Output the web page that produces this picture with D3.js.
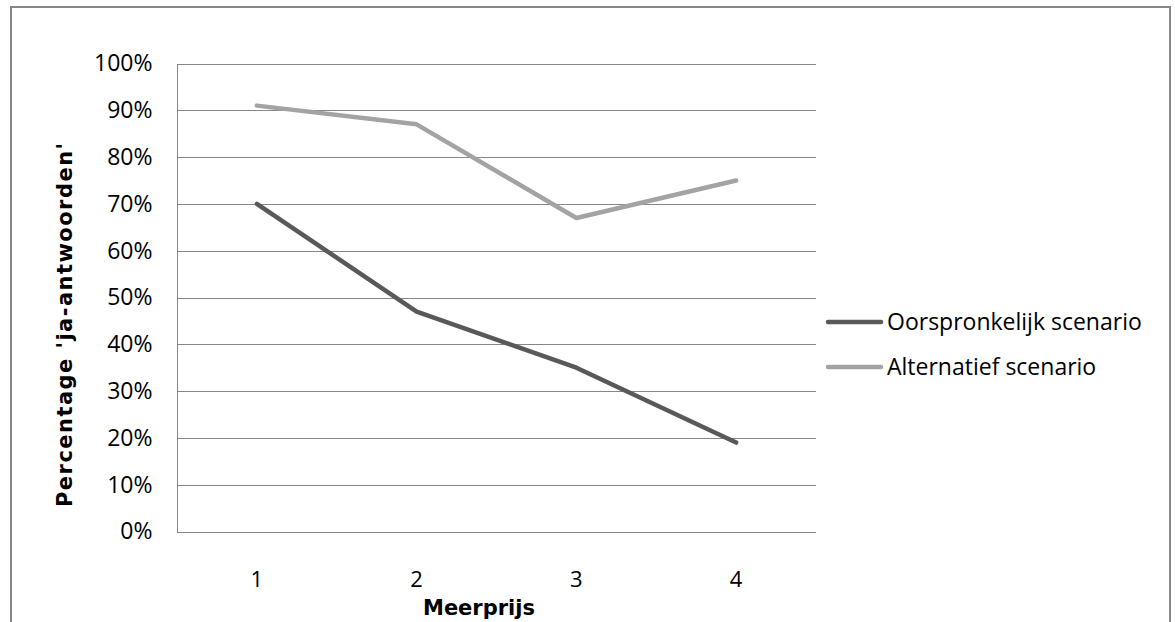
<!DOCTYPE html>
<html>
<head>
<meta charset="utf-8">
<script src="https://cdn.jsdelivr.net/npm/d3@7"></script>
<style>
  html, body { margin: 0; padding: 0; background: #fff; }
  svg { display: block; }
</style>
</head>
<body>
<svg id="chart" width="1175" height="622"></svg>
<script>
// Data
const categories = ["1", "2", "3", "4"];
const seriesNames = ["Oorspronkelijk scenario", "Alternatief scenario"];
const oorspronkelijk = [0.70, 0.47, 0.35, 0.19];
const alternatief = [0.91, 0.87, 0.67, 0.75];
const yTicks = [0, 0.1, 0.2, 0.3, 0.4, 0.5, 0.6, 0.7, 0.8, 0.9, 1.0];

const seriesColors = ["#595959", "#a3a3a3"];
const series = [
  { name: seriesNames[0], values: oorspronkelijk, color: seriesColors[0] },
  { name: seriesNames[1], values: alternatief, color: seriesColors[1] }
];

const font = "'Open Sans', sans-serif";
const boldFont = "'DejaVu Sans', sans-serif";
const svg = d3.select("#chart");

// Outer frame (open at the bottom)
svg.append("path")
  .attr("d", "M11,622 V7 H1170 V622")
  .attr("fill", "none")
  .attr("stroke", "#878787")
  .attr("stroke-width", 2);

const plot = { left: 177, right: 816, top: 63.5, bottom: 531.5 };

const x = d3.scaleBand().domain(categories).range([plot.left, plot.right]);
const y = d3.scaleLinear().domain([0, 1]).range([plot.bottom, plot.top]);

// Horizontal gridlines
svg.append("g")
  .selectAll("line")
  .data(yTicks)
  .join("line")
  .attr("x1", plot.left)
  .attr("x2", plot.right)
  .attr("y1", d => Math.round(y(d)) + 0.5)
  .attr("y2", d => Math.round(y(d)) + 0.5)
  .attr("stroke", "#878787")
  .attr("stroke-width", 1);

// Y axis
const yAxis = svg.append("g")
  .attr("transform", `translate(${plot.left + 0.5},0)`)
  .call(d3.axisLeft(y).tickValues(yTicks).tickFormat(d3.format(".0%")).tickSize(0).tickPadding(25));
yAxis.select(".domain").attr("stroke", "#878787").attr("d", `M0,${Math.round(plot.top)} V${Math.round(plot.bottom) + 1}`);
yAxis.selectAll("text")
  .attr("font-family", font)
  .attr("font-size", 23)
  .attr("fill", "#000");

// X axis labels
const xAxis = svg.append("g")
  .attr("transform", `translate(0,${plot.bottom})`)
  .call(d3.axisBottom(x).tickSize(0).tickPadding(40));
xAxis.select(".domain").remove();
xAxis.selectAll("text")
  .attr("font-family", font)
  .attr("font-size", 22)
  .attr("fill", "#000");

// Series lines
const line = d3.line()
  .x((d, i) => x(categories[i]) + x.bandwidth() / 2)
  .y(d => y(d));

svg.append("g")
  .selectAll("path")
  .data(series)
  .join("path")
  .attr("d", d => line(d.values))
  .attr("fill", "none")
  .attr("stroke", d => d.color)
  .attr("stroke-width", 4.5)
  .attr("stroke-linejoin", "round")
  .attr("stroke-linecap", "round");

// Axis titles
svg.append("text")
  .attr("x", 479)
  .attr("y", 615)
  .attr("text-anchor", "middle")
  .attr("font-family", boldFont)
  .attr("font-weight", "bold")
  .attr("font-size", 21)
  .text("Meerprijs");

svg.append("text")
  .attr("transform", "translate(72,325) rotate(-90)")
  .attr("text-anchor", "middle")
  .attr("font-family", boldFont)
  .attr("font-weight", "bold")
  .attr("font-size", 21)
  .attr("textLength", 364)
  .attr("lengthAdjust", "spacing")
  .text("Percentage 'ja-antwoorden'");

// Legend
const legend = svg.append("g")
  .selectAll("g")
  .data(series)
  .join("g")
  .attr("transform", (d, i) => `translate(828,${322 + i * 45})`);
legend.append("line")
  .attr("x1", 0).attr("x2", 53)
  .attr("stroke", d => d.color)
  .attr("stroke-width", 4.5)
  .attr("stroke-linecap", "round");
legend.append("text")
  .attr("x", 59)
  .attr("dy", "0.35em")
  .attr("font-family", font)
  .attr("font-size", 23)
  .attr("fill", "#000")
  .text(d => d.name);
</script>
</body>
</html>
